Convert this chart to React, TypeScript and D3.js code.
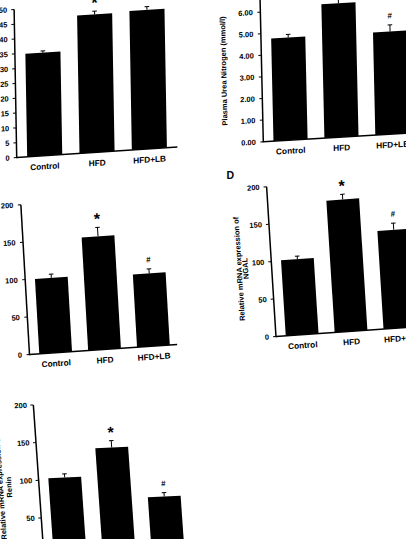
import React from 'react';
import * as d3 from 'd3';

const categories = ['Control', 'HFD', 'HFD+LB'];

const panelAValues = [34.8, 46.6, 47.0];
const panelAErrors = [0.6, 1.1, 1.1];
const panelAMarks = ['', '*', ''];
const panelATicks = [0, 5, 10, 15, 20, 25, 30, 35, 40, 45, 50];

const panelBValues = [4.75, 6.2, 4.75];
const panelBErrors = [0.15, 0.2, 0.3];
const panelBMarks = ['', '*', '#'];
const panelBTicks = [0, 1, 2, 3, 4, 5, 6, 7];
const panelBTitle = ['Plasma Urea Nitrogen (mmol/l)'];

const panelCValues = [100, 151, 97];
const panelCErrors = [5, 12, 6];
const panelCMarks = ['', '*', '#'];
const panelCTicks = [0, 50, 100, 150, 200];

const panelDValues = [101, 176, 131];
const panelDErrors = [4, 7, 9];
const panelDMarks = ['', '*', '#'];
const panelDTicks = [0, 50, 100, 150, 200];
const panelDTitle = ['Relative mRNA expression of', 'NGAL'];

const panelEValues = [102, 139, 71];
const panelEErrors = [5, 9, 5];
const panelEMarks = ['', '*', '#'];
const panelETicks = [0, 50, 100, 150, 200];
const panelETitle = ['Relative mRNA expression of', 'Renin'];

const FONT = '"Liberation Sans", Arial, Helvetica, sans-serif';

type PanelProps = {
  values: number[];
  errors: number[];
  marks: string[];
  ticks: number[];
  fmt: (v: number) => string;
  yMax: number;
  H: number;
  W: number;
  axisLen: number;
  ox: number;
  oy: number;
  ax: number;
  tilt: number;
  labelGap: number;
  title?: string[];
  titleOffsets?: number[];
  titleCenter?: number;
};

function Panel(p: PanelProps) {
  const y = d3.scaleLinear().domain([0, p.yMax]).range([0, -p.H]);
  const x = d3
    .scaleBand<string>()
    .domain(categories)
    .range([0, p.W])
    .paddingInner(0.33)
    .paddingOuter(0.2);
  const a = (p.ax * Math.PI) / 180;
  const t = (p.tilt * Math.PI) / 180;
  const m = `matrix(${Math.cos(a)} ${Math.sin(a)} ${Math.sin(t)} ${Math.cos(t)} ${p.ox} ${p.oy})`;
  const bw = x.bandwidth();
  return (
    <g transform={m} fontFamily={FONT} fontWeight="bold" fill="#000">
      {categories.map((c, i) => {
        const x0 = x(c) as number;
        const cx = x0 + bw / 2;
        const top = y(p.values[i]);
        const et = y(p.values[i] + p.errors[i]);
        return (
          <g key={c}>
            <rect x={x0} y={top} width={bw} height={-top} fill="#000" />
            <line x1={cx} x2={cx} y1={top} y2={et} stroke="#000" strokeWidth={1} />
            <line x1={cx - 2.3} x2={cx + 2.3} y1={et} y2={et} stroke="#000" strokeWidth={1} />
            {p.marks[i] === '*' && (
              <text x={cx} y={et - 3} fontSize={16} textAnchor="middle" fill="#000">*</text>
            )}
            {p.marks[i] === '#' && (
              <text x={cx} y={et - 6.5} fontSize={8} textAnchor="middle" fill="#000">#</text>
            )}
            <text x={cx} y={13.5} fontSize={8.3} textAnchor="middle" fill="#000">{c}</text>
          </g>
        );
      })}
      <line x1={0} x2={0} y1={0.7} y2={-p.H} stroke="#000" strokeWidth={1.5} />
      <line x1={0} x2={p.axisLen} y1={0} y2={0} stroke="#000" strokeWidth={1.5} />
      {p.ticks.map((tk) => (
        <g key={tk}>
          <line x1={-3} x2={0} y1={y(tk)} y2={y(tk)} stroke="#000" strokeWidth={1} />
          <text
            x={-p.labelGap}
            y={y(tk)}
            fontSize={7.5}
            textAnchor="end"
            dominantBaseline="central"
            fill="#000"
          >
            {p.fmt(tk)}
          </text>
        </g>
      ))}
      {p.title &&
        p.title.map((line, i) => (
          <text
            key={line}
            transform={`translate(${(p.titleOffsets as number[])[i]},${p.titleCenter}) rotate(-90)`}
            fontSize={7.5}
            textAnchor="middle"
            fill="#000"
          >
            {line}
          </text>
        ))}
    </g>
  );
}

export default function App() {
  const intFmt = d3.format('d');
  const decFmt = d3.format('.2f');
  return (
    <svg
      width={406}
      height={539}
      style={{ position: 'absolute', left: 0, top: 0, background: '#fff' }}
    >
      <rect width={406} height={539} fill="#fff" />
      <Panel
        values={panelAValues}
        errors={panelAErrors}
        marks={panelAMarks}
        ticks={panelATicks}
        fmt={intFmt}
        yMax={50}
        H={148}
        W={161}
        axisLen={161}
        ox={16.7}
        oy={157.5}
        ax={-3.7}
        tilt={1.0}
        labelGap={7}
      />
      <Panel
        values={panelBValues}
        errors={panelBErrors}
        marks={panelBMarks}
        ticks={panelBTicks}
        fmt={decFmt}
        yMax={7}
        H={151.2}
        W={156.6}
        axisLen={165}
        ox={263.3}
        oy={141.7}
        ax={-3.4}
        tilt={1.3}
        labelGap={7.5}
        title={panelBTitle}
        titleOffsets={[-35.5]}
        titleCenter={-73}
      />
      <Panel
        values={panelCValues}
        errors={panelCErrors}
        marks={panelCMarks}
        ticks={panelCTicks}
        fmt={intFmt}
        yMax={200}
        H={150}
        W={150.4}
        axisLen={148}
        ox={29.5}
        oy={354.5}
        ax={-3.9}
        tilt={3.3}
        labelGap={7.5}
      />
      <Panel
        values={panelDValues}
        errors={panelDErrors}
        marks={panelDMarks}
        ticks={panelDTicks}
        fmt={intFmt}
        yMax={200}
        H={150}
        W={150.4}
        axisLen={150}
        ox={276}
        oy={336.5}
        ax={-4.0}
        tilt={3.6}
        labelGap={7}
        title={panelDTitle}
        titleOffsets={[-30, -23.7]}
        titleCenter={-70}
      />
      <Panel
        values={panelEValues}
        errors={panelEErrors}
        marks={panelEMarks}
        ticks={panelETicks}
        fmt={intFmt}
        yMax={200}
        H={151}
        W={150.4}
        axisLen={150}
        ox={43.9}
        oy={555.6}
        ax={-2.6}
        tilt={4.0}
        labelGap={6.5}
        title={panelETitle}
        titleOffsets={[-36, -27.5]}
        titleCenter={-70}
      />
      <text x={226.5} y={178.5} fontSize={10.5} fontWeight="bold" fontFamily={FONT} fill="#000">
        D
      </text>
    </svg>
  );
}
